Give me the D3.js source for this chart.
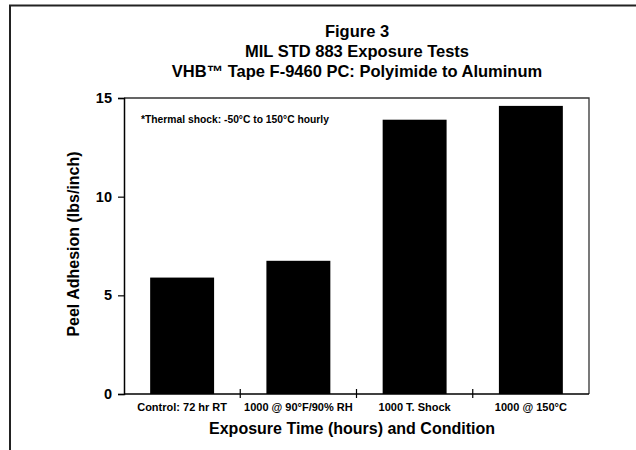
<!DOCTYPE html>
<html>
<head>
<meta charset="utf-8">
<script src="https://cdn.jsdelivr.net/npm/d3@7"></script>
<style>
    body { margin: 0; background: #fff; }
    svg text { font-family: "Liberation Sans", Arial, sans-serif; font-weight: bold; fill: #000; }
</style>
</head>
<body>
<svg class="chart" width="636" height="450"></svg>
<script>
// data
const categories = ["Control: 72 hr RT", "1000 @ 90°F/90% RH", "1000 T. Shock", "1000 @ 150°C"];
const adhesion = [5.9, 6.75, 13.9, 14.6];
const yTicks = [0, 5, 10, 15];
const titleLines = ["Figure 3", "MIL STD 883 Exposure Tests", "VHB™ Tape F-9460 PC: Polyimide to Aluminum"];
const note = "*Thermal shock: -50°C to 150°C hourly";

// layout
const plot = { left: 124, top: 98, right: 589, bottom: 394 };

const svg = d3.select("svg.chart");

// outer frame (only top and left visible)
svg.append("path")
    .attr("d", "M10,450 V5.5 H636")
    .attr("fill", "none")
    .attr("stroke", "#222")
    .attr("stroke-width", 2);

const x = d3.scaleBand()
    .domain(categories)
    .range([plot.left, plot.right])
    .paddingInner(0.45)
    .paddingOuter(0.225);

const y = d3.scaleLinear()
    .domain([0, 15])
    .range([plot.bottom, plot.top]);

// bars
svg.append("g")
    .selectAll("rect")
    .data(categories)
    .join("rect")
    .attr("x", d => x(d))
    .attr("width", x.bandwidth())
    .attr("y", (d, i) => y(adhesion[i]))
    .attr("height", (d, i) => y(0) - y(adhesion[i]))
    .attr("fill", "#000");

// plot box (top & right)
svg.append("path")
    .attr("d", `M${plot.left},${plot.top} H${plot.right} V${plot.bottom}`)
    .attr("fill", "none")
    .attr("stroke", "#333")
    .attr("stroke-width", 1.3);

// y axis
const yAxis = svg.append("g")
    .attr("transform", `translate(${plot.left},0)`)
    .call(d3.axisLeft(y).tickValues(yTicks).tickSize(6).tickPadding(6));
yAxis.select(".domain").attr("stroke", "#000").attr("stroke-width", 1.5);
yAxis.selectAll(".tick line").attr("stroke", "#000").attr("stroke-width", 1.2);
yAxis.selectAll(".tick text")
    .style("font-size", "14.5px")
    .style("font-family", "'Liberation Sans', Arial, sans-serif")
    .style("font-weight", "bold");

// x axis: baseline + separators between categories
svg.append("line")
    .attr("x1", plot.left).attr("x2", plot.right)
    .attr("y1", plot.bottom).attr("y2", plot.bottom)
    .attr("stroke", "#000").attr("stroke-width", 1.5);

const step = x.step();
svg.append("g")
    .selectAll("line")
    .data(categories.slice(1))
    .join("line")
    .attr("x1", d => x(d) - x.paddingInner() * step / 2)
    .attr("x2", d => x(d) - x.paddingInner() * step / 2)
    .attr("y1", plot.bottom - 5)
    .attr("y2", plot.bottom + 4)
    .attr("stroke", "#000")
    .attr("stroke-width", 1.2);

svg.append("g")
    .selectAll("text")
    .data(categories)
    .join("text")
    .attr("x", d => x(d) + x.bandwidth() / 2)
    .attr("y", 411)
    .attr("text-anchor", "middle")
    .style("font-size", "11px")
    .text(d => d);

// titles
svg.append("g")
    .selectAll("text")
    .data(titleLines)
    .join("text")
    .attr("x", 357)
    .attr("y", (d, i) => 37 + i * 20)
    .attr("text-anchor", "middle")
    .style("font-size", "16.5px")
    .text(d => d);

// axis titles
svg.append("text")
    .attr("x", 352)
    .attr("y", 434)
    .attr("text-anchor", "middle")
    .style("font-size", "16px")
    .text("Exposure Time (hours) and Condition");

svg.append("text")
    .attr("transform", "translate(79,244) rotate(-90)")
    .attr("text-anchor", "middle")
    .style("font-size", "16px")
    .text("Peel Adhesion (lbs/inch)");

// note
svg.append("text")
    .attr("x", 141)
    .attr("y", 123)
    .style("font-size", "10.3px")
    .text(note);
</script>
</body>
</html>
